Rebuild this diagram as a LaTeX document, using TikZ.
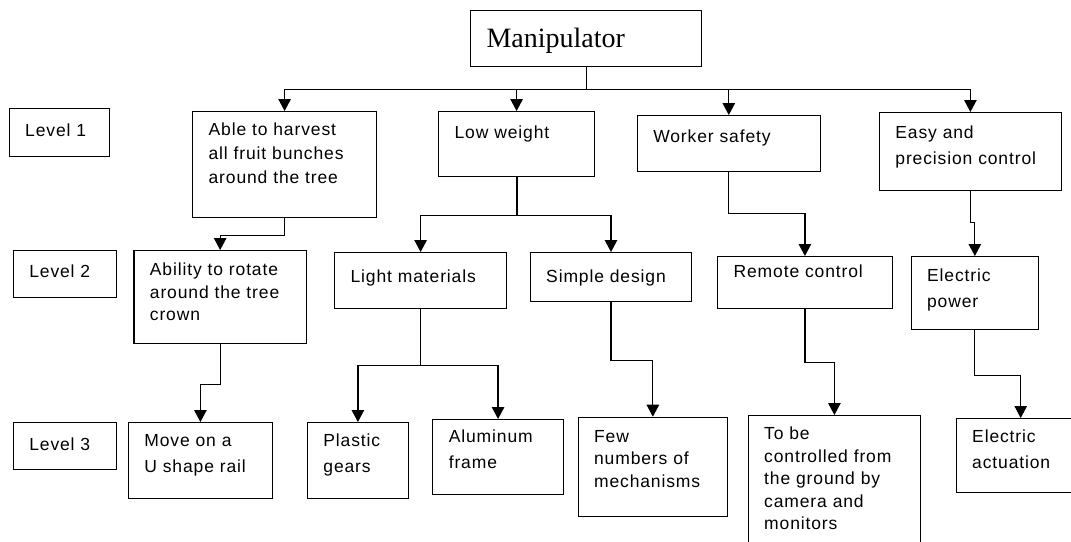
\documentclass[tikz,border=0pt]{standalone}
\usepackage{fontspec}
\setmainfont{Liberation Sans}[LetterSpace=5]
\newfontfamily\titlefont{Liberation Serif}
\usepackage{tikz}
\usetikzlibrary{arrows.meta}
\tikzset{
  blk/.style={draw, line width=1.2pt, anchor=north west, inner xsep=16pt,
    inner ysep=0pt, align=left, font=\fontsize{17.5}{24}\selectfont},
  loose/.style={font=\fontsize{17.5}{26}\selectfont},
  tight/.style={font=\fontsize{17.5}{22.5}\selectfont},
  arr/.style={line width=1.2pt, -{Triangle[width=12.5pt,length=12pt]}},
}

\begin{document}
\begin{tikzpicture}[x=1pt, y=-1pt]
\useasboundingbox (0,0) rectangle (1071,541);
\clip (0,0) rectangle (1071,541);
\fill[white] (0,0) rectangle (1071,541);
% Top box
\node[blk, text width=199pt, text height=37pt, text depth=19pt,
  font=\titlefont\fontsize{28}{30}\selectfont] (manip) at (470,10) {Manipulator};
% Level labels
\node[blk, text width=68pt, text height=28pt, text depth=20pt] (lev1) at (8.6,108) {Level 1};
\node[blk, text width=71pt, text height=27pt, text depth=20pt] (lev2) at (12.7,250) {Level 2};
\node[blk, text width=71pt, text height=28pt, text depth=19pt] (lev3) at (12.7,422) {Level 3};
% Level 1
\node[blk, text width=152pt, text height=24pt, text depth=82pt] (able) at (192,111)
  {Able to harvest\\all fruit bunches\\around the tree};
\node[blk, text width=124pt, text height=27pt, text depth=38pt] (low) at (438,111) {Low weight};
\node[blk, text width=151pt, text height=27pt, text depth=29pt] (safe) at (636.7,115) {Worker safety};
\node[blk, loose, text width=150pt, text height=26pt, text depth=52pt] (easy) at (878.8,112)
  {Easy and\\precision control};
% Level 2
\node[blk, tight, text width=140.5pt, text height=25pt, text depth=68pt] (abil) at (133.3,250)
  {Ability to rotate\\around the tree\\crown};
\node[blk, text width=140pt, text height=30pt, text depth=26pt] (light) at (334,252) {Light materials};
\node[blk, text width=129.6pt, text height=30pt, text depth=19pt] (simple) at (529.6,252) {Simple design};
\node[blk, text width=142.6pt, text height=21pt, text depth=31pt] (remote) at (717,256) {Remote control};
\node[blk, loose, text width=95.5pt, text height=25pt, text depth=48pt] (epower) at (910.5,256)
  {Electric\\power};
% Level 3
\node[blk, loose, text width=112pt, text height=24pt, text depth=52pt] (move) at (127.8,422)
  {Move on a\\U shape rail};
\node[blk, loose, text width=69pt, text height=24pt, text depth=52pt] (plastic) at (306.8,422)
  {Plastic\\gears};
\node[blk, loose, text width=98.5pt, text height=23pt, text depth=52pt] (alu) at (432.2,419)
  {Aluminum\\frame};
\node[blk, tight, text width=117.5pt, text height=25pt, text depth=74pt] (few) at (577.5,416.7)
  {Few\\numbers of\\mechanisms};
\node[blk, tight, text width=140.4pt, text height=24pt, text depth=126pt] (tobe) at (747.6,415)
  {To be\\controlled from\\the ground by\\camera and\\monitors};
\node[blk, loose, text width=97pt, text height=24pt, text depth=50pt] (eact) at (955.6,418)
  {Electric\\actuation};
% Connectors
\draw[line width=1.2pt] (manip.south) -- ++(0,22) coordinate (mbus);
\foreach \c in {able,low,safe,easy}
  \draw[arr] (mbus) -| (\c.north);
\draw[arr] (able.south) -- ++(0,17) -| (abil.north);
\draw[line width=2pt] (low.south) -- ++(0,38) coordinate (lbus);
\foreach \c in {light,simple}
  \draw[arr] (lbus) -| (\c.north);
\draw[arr] (safe.south) -- ++(0,41) -| (remote.north);
\draw[arr] (easy.south) -- ++(0,31) -| (epower.north);
\draw[arr] (abil.south) -- ++(0,40) -| (move.north);
\draw[line width=1.2pt] (light.south) -- ++(0,56) coordinate (gbus);
\foreach \c in {plastic,alu}
  \draw[arr] (gbus) -| (\c.north);
\draw[arr] (simple.south) -- ++(0,58) -| (few.north);
\draw[arr] (remote.south) -- ++(0,53) -| (tobe.north);
\draw[arr] (epower.south) -- ++(0,45) -| (eact.north);
\end{tikzpicture}
\end{document}
